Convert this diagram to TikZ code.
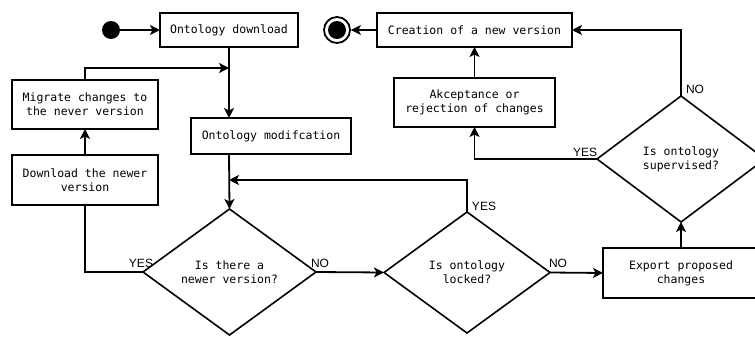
\documentclass[tikz,border=0pt]{standalone}
\usepackage{fontspec}
\setmonofont{DejaVu Sans Mono}
\setsansfont{Liberation Sans}
\usetikzlibrary{arrows.meta,shapes.geometric}
\tikzset{
    box/.style={draw, line width=1.8pt, inner sep=0pt, outer sep=0pt,
                minimum height=34pt, align=center,
                font=\ttfamily\fontsize{11.5}{14}\selectfont},
    tallbox/.style={box, minimum height=49pt},
    choice/.style={diamond, draw, line width=1.6pt, aspect=1.35,
                   inner sep=0pt, outer sep=0pt, align=center,
                   font=\ttfamily\fontsize{11.5}{14}\selectfont},
    flow/.style={-{Stealth[length=10pt, width=10pt, inset=2.5pt]}, line width=1.8pt},
    link/.style={line width=1.8pt},
    lbl/.style={font=\sffamily\fontsize{12}{14}\selectfont, inner sep=0pt},
    dot/.style={circle, fill, inner sep=0pt, minimum size=18pt},
}

\begin{document}
\begin{tikzpicture}[x=1pt, y=-1pt]

    \path[use as bounding box, clip] (0,0) rectangle (755,340);

    % top row
    \node[dot] (start) at (111,30) {};
    \node[box, minimum width=138pt] (dl) at (229,30) {Ontology download};
    \node[circle, draw, line width=1.8pt, inner sep=0pt, minimum size=26pt] (stop) at (337,30) {};
    \node[dot] (stopdot) at (stop) {};
    \node[box, minimum width=195pt] (newver) at (474.5,30) {Creation of a new version};

    % left column and middle
    \node[tallbox, minimum width=146pt] (migrate) at (85,104.5) {Migrate changes to\\the never version};
    \node[tallbox, minimum width=146pt, minimum height=50pt] (getnew) at (85,180) {Download the newer\\version};
    \node[box, minimum width=160pt, minimum height=36pt] (modif) at (271,136) {Ontology modifcation};
    \node[tallbox, minimum width=161pt] (accept) at (474.5,102.5) {Akceptance or\\rejection of changes};
    \node[tallbox, minimum width=156pt, minimum height=50pt] (export) at (681,273) {Export proposed\\changes};

    % decisions
    \node[choice, minimum width=173pt, minimum height=126pt] (newer) at (229.5,272) {Is there a\\newer version?};
    \node[choice, minimum width=166pt, minimum height=121pt] (locked) at (467,272.5) {Is ontology\\locked?};
    \node[choice, minimum width=168pt, minimum height=126pt] (superv) at (681,159) {Is ontology\\supervised?};

    \coordinate (join) at (dl.south |- 0,68);
    \coordinate (loop) at (dl.south |- 0,180);

    % connectors
    \draw[flow] (start) -- (dl);
    \draw[flow] (newver) -- (stop);
    \draw[flow] (dl.south) -- (dl.south |- modif.north);
    \draw[flow] (migrate.north) |- (join);
    \draw[flow] (getnew.north) -- (migrate.south);
    \draw[flow] (dl.south |- modif.south) -- (newer.north);
    \draw[link] (newer.west) -| (getnew.south);
    \draw[flow] (newer.east) -- (locked.west);
    \draw[flow] (locked.north) |- (loop);
    \draw[flow] (locked.east) -- (export.west);
    \draw[flow] (export.north) -- (superv.south);
    \draw[flow] (superv.west) -| (accept.south);
    \draw[flow] (accept.north) -- (newver.south);
    \draw[flow] (superv.north) |- (newver.east);

    % branch labels
    \node[lbl] (yes1) at ([shift={(-2,-9)}]newer.west) {YES};
    \node[lbl] (no1) at ([shift={(4,-9)}]newer.east) {NO};
    \node[lbl] (yes2) at ([shift={(17,-6)}]locked.north) {YES};
    \node[lbl] (no2) at ([shift={(8,-9)}]locked.east) {NO};
    \node[lbl] (yes3) at ([shift={(-12,-7)}]superv.west) {YES};
    \node[lbl] (no3) at ([shift={(14,-7)}]superv.north) {NO};

\end{tikzpicture}
\end{document}
